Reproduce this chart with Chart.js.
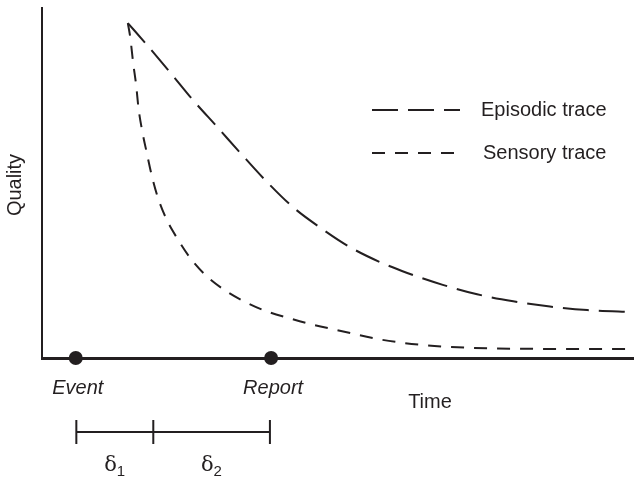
<!DOCTYPE html>
<html>
<head>
<meta charset="utf-8">
<script src="https://cdn.jsdelivr.net/npm/chart.js@4/dist/chart.umd.min.js"></script>
<style>
  html, body { margin: 0; padding: 0; background: #fff; }
  canvas { display: block; }
</style>
</head>
<body>
<canvas id="memory" width="634" height="478"></canvas>
<script>
// Values (time 0..10, quality 0..10)
const episodicTime = [1.45, 1.77, 2.16, 2.55, 2.96, 3.35, 3.8, 4.24, 4.73, 5.2, 5.71, 6.17, 6.77, 7.35, 7.96, 8.58, 9.21, 10];
const episodicQuality = [9.57, 8.95, 8.17, 7.37, 6.6, 5.86, 5.03, 4.31, 3.69, 3.17, 2.74, 2.43, 2.09, 1.82, 1.62, 1.47, 1.37, 1.31];
const sensoryTime = [1.45, 1.49, 1.54, 1.59, 1.63, 1.69, 1.77, 1.86, 1.96, 2.11, 2.28, 2.53, 2.8, 3.13, 3.46, 3.8, 4.19, 4.58, 4.98, 5.71, 6.5, 7.28, 8.53, 10];
const sensoryQuality = [9.57, 9.17, 8.43, 7.8, 7.14, 6.51, 5.86, 5.17, 4.57, 3.94, 3.43, 2.8, 2.31, 1.89, 1.58, 1.33, 1.13, 0.95, 0.8, 0.53, 0.36, 0.29, 0.26, 0.26];
const seriesNames = ["Episodic trace", "Sensory trace"];
const markerNames = ["Event", "Report"];
const markerTimes = [0.57, 3.87];
const deltaBounds = [0.58, 1.88, 3.85];
const deltaNames = ["1", "2"];

const ink = "#231f20";
const font = "'Liberation Sans', Arial, Helvetica, sans-serif";

function toPoints(xs, ys) {
  return xs.map((x, i) => ({ x: x, y: ys[i] }));
}

const annotations = {
  id: "annotations",
  afterDatasetsDraw(chart) {
    const ctx = chart.ctx;
    const xs = chart.scales.x;
    ctx.save();
    ctx.fillStyle = ink;
    ctx.strokeStyle = ink;

    // legend inside the plot
    const rows = [110, 153];
    chart.data.datasets.slice(0, 2).forEach((ds, i) => {
      ctx.lineWidth = 2;
      ctx.setLineDash(ds.borderDash);
      ctx.beginPath();
      ctx.moveTo(372, rows[i]);
      ctx.lineTo(460, rows[i]);
      ctx.stroke();
      ctx.setLineDash([]);
      ctx.font = "20px " + font;
      ctx.textAlign = "left";
      ctx.textBaseline = "middle";
      ctx.fillText(ds.label, i === 0 ? 481 : 483, rows[i]);
    });

    // marker labels
    ctx.font = "italic 20px " + font;
    ctx.textAlign = "center";
    ctx.textBaseline = "middle";
    markerTimes.forEach((t, i) => {
      ctx.fillText(markerNames[i], xs.getPixelForValue(t) + 2, 388);
    });

    // axis titles
    ctx.font = "20px " + font;
    ctx.fillText("Time", 430, 402);
    ctx.save();
    ctx.translate(15, 185);
    ctx.rotate(-Math.PI / 2);
    ctx.fillText("Quality", 0, 0);
    ctx.restore();

    // delta bracket
    const px = deltaBounds.map(v => xs.getPixelForValue(v));
    ctx.lineWidth = 2;
    ctx.beginPath();
    ctx.moveTo(px[0], 432);
    ctx.lineTo(px[px.length - 1], 432);
    px.forEach(p => {
      ctx.moveTo(p, 420);
      ctx.lineTo(p, 444);
    });
    ctx.stroke();
    for (let i = 0; i < px.length - 1; i++) {
      const mid = (px[i] + px[i + 1]) / 2;
      ctx.font = "21px 'DejaVu Serif', serif";
      ctx.textAlign = "right";
      ctx.fillText("\u03b4", mid + 2, 466);
      ctx.font = "15px " + font;
      ctx.textAlign = "left";
      ctx.fillText(deltaNames[i], mid + 2, 472);
    }
    ctx.restore();
  }
};

new Chart(document.getElementById("memory"), {
  type: "scatter",
  data: {
    datasets: [
      {
        label: seriesNames[0],
        data: toPoints(episodicTime, episodicQuality),
        showLine: true,
        borderColor: ink,
        borderWidth: 2,
        borderDash: [26, 10],
        pointRadius: 0,
        cubicInterpolationMode: "monotone"
      },
      {
        label: seriesNames[1],
        data: toPoints(sensoryTime, sensoryQuality),
        showLine: true,
        borderColor: ink,
        borderWidth: 2,
        borderDash: [13, 10],
        pointRadius: 0,
        cubicInterpolationMode: "monotone"
      },
      {
        label: "markers",
        data: markerTimes.map(t => ({ x: t, y: 0 })),
        showLine: false,
        pointRadius: 7,
        pointBackgroundColor: ink,
        pointBorderWidth: 0,
        clip: false
      }
    ]
  },
  options: {
    responsive: false,
    animation: false,
    layout: { autoPadding: false, padding: { left: 42, top: 8, right: 0, bottom: 120 } },
    plugins: { legend: { display: false }, tooltip: { enabled: false } },
    scales: {
      x: {
        type: "linear", min: 0, max: 10,
        ticks: { display: false },
        grid: { display: false, drawTicks: false },
        border: { display: true, color: ink, width: 3 }
      },
      y: {
        min: 0, max: 10,
        ticks: { display: false },
        grid: { display: false, drawTicks: false },
        border: { display: true, color: ink, width: 2 }
      }
    }
  },
  plugins: [annotations]
});
</script>
</body>
</html>
